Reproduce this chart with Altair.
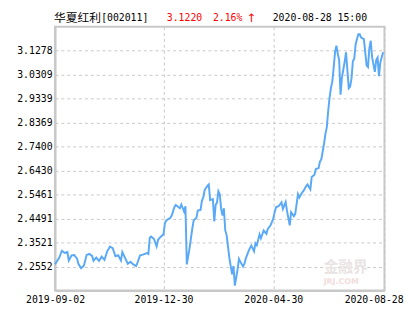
import altair as alt
import pandas as pd

# trading-day index and NAV values
idx = [0, 3, 5, 7, 9, 10, 12, 14, 16, 17, 19, 21, 23, 25, 27, 28, 30, 32, 34, 36,
       38, 40, 42, 44, 46, 48, 49, 51, 53, 55, 57, 59, 60, 62, 64, 67, 68, 69, 70, 72,
       74, 75, 77, 79, 80, 81, 84, 85, 87, 88, 90, 91, 92, 94, 95, 96, 98, 100, 101, 103,
       104, 106, 107, 108, 109, 111, 112, 113, 115, 116, 117, 118, 119, 120, 121, 122, 123, 124, 125, 127,
       128, 129, 130, 131, 133, 134, 135, 137, 138, 139, 141, 142, 143, 145, 146, 147, 149, 150, 152, 154,
       155, 157, 159, 160, 161, 163, 165, 166, 168, 169, 171, 172, 174, 175, 177, 178, 180, 181, 183, 184,
       186, 187, 189, 190, 192, 193, 194, 196, 197, 198, 199, 200, 201, 202, 203, 204, 205, 206, 207, 208,
       209, 211, 212, 214, 215, 216, 217, 218, 219, 220, 221, 222, 223, 225, 226, 227, 228, 229, 230, 231,
       233, 234, 235, 236, 237, 239]
nav = [2.2644, 2.2901, 2.3190, 2.3099, 2.3139, 2.2794, 2.3000, 2.3020, 2.2873, 2.2663,
       2.2485, 2.2584, 2.3020, 2.3060, 2.2980, 2.2782, 2.2913, 2.2782, 2.2952, 2.2822,
       2.3167, 2.3357, 2.3297, 2.2969, 2.3008, 2.2794, 2.3139, 2.2901, 2.2664, 2.2743,
       2.2636, 2.2572, 2.2703, 2.3008, 2.3032, 2.3099, 2.3060, 2.3713, 2.3761, 2.3674,
       2.3365, 2.3626, 2.3761, 2.3852, 2.4288, 2.4418, 2.4525, 2.4616, 2.4961, 2.5040,
       2.4949, 2.4909, 2.5060, 2.4775, 2.4988, 2.2636, 2.3297, 2.4089, 2.4418, 2.4525,
       2.4814, 2.4842, 2.5210, 2.5345, 2.5646, 2.5812, 2.5872, 2.5238, 2.5278, 2.4379,
       2.5040, 2.5147, 2.5594, 2.5476, 2.4882, 2.4616, 2.4909, 2.4022, 2.3824, 2.2901,
       2.2565, 2.2240, 2.2572, 2.1780, 2.2446, 2.2862, 2.2743, 2.2553, 2.2664, 2.2881,
       2.3178, 2.3297, 2.3396, 2.3167, 2.3495, 2.3416, 2.3852, 2.3693, 2.4010, 2.3872,
       2.4070, 2.4220, 2.4486, 2.4751, 2.4949, 2.5000, 2.5147, 2.4882, 2.5159, 2.4802,
       2.4220, 2.4751, 2.4592, 2.4684, 2.5476, 2.5345, 2.5543, 2.5607, 2.5804, 2.5872,
       2.5674, 2.6177, 2.6268, 2.6493, 2.6533, 2.6795, 2.6889, 2.7523, 2.7919, 2.8181,
       2.8842, 2.9369, 2.9765, 3.0030, 3.0585, 3.1219, 3.1484, 3.1151, 3.0901, 2.9504,
       3.0189, 3.0822, 3.1219, 2.9765, 2.9832, 3.0161, 3.0862, 3.0953, 3.1535, 3.1753,
       3.1943, 3.1943, 3.1813, 3.1746, 3.1219, 3.0692, 3.0624, 3.1377, 3.1682, 3.1020,
       3.0426, 3.0901, 3.1000, 3.0248, 3.0805, 3.1220]

y_ticks = [2.2552, 2.3521, 2.4491, 2.5461, 2.6430, 2.7400, 2.8369, 2.9339, 3.0309, 3.1278]
y_domain = [2.15824, 3.22476]
x_ticks = [0, 79, 159, 240]
x_labels = ["2019-09-02", "2019-12-30", "2020-04-30", "2020-08-28"]

fund_name = "华夏红利"
fund_code = "[002011]"
last_nav = "3.1220"
change = "2.16%"
arrow = "↑"
stamp = "2020-08-28 15:00"

df = pd.DataFrame({"i": idx, "nav": nav})

label_expr = " : ".join(
    [f"datum.value == {t} ? '{l}'" for t, l in zip(x_ticks, x_labels)]
) + " : ''"

MONO = "DejaVu Sans Mono"
GRID = "#c8c8c8"

line = alt.Chart(df).mark_line(color="#5aa9f6", strokeWidth=2).encode(
    x=alt.X("i:Q",
            scale=alt.Scale(domain=[0, 240], nice=False, zero=False),
            axis=alt.Axis(values=x_ticks, labelExpr=label_expr, title=None,
                          grid=True, gridDash=[3, 3], gridColor=GRID,
                          ticks=False, labelPadding=4, domainColor="#c8c8c8",
                          domainWidth=2, labelFont=MONO, labelFontSize=10,
                          labelColor="#000000", labelFlush=False,
                          labelOffset={"condition": {"test": "datum.value == 240", "value": -11}, "value": 0})),
    y=alt.Y("nav:Q",
            scale=alt.Scale(domain=y_domain, nice=False, zero=False),
            axis=alt.Axis(values=y_ticks, format=".4f", title=None,
                          grid=True, gridDash=[3, 3], gridColor=GRID,
                          ticks=False, labelPadding=3, domainColor="#c8c8c8",
                          domainWidth=2, labelFont=MONO, labelFontSize=10,
                          labelColor="#000000", labelBaseline="middle")),
)


def txt(s, x, y, color="#000000", font=MONO, size=10, align="left", weight="normal"):
    return alt.Chart(pd.DataFrame({"t": [s]})).mark_text(
        align=align, baseline="middle", font=font, fontSize=size,
        color=color, fontWeight=weight
    ).encode(text="t:N", x=alt.value(x), y=alt.value(y))


# page coords -> plot coords: x - 56, y - 24
title_y = 15.5 - 24
layers = [
    txt("金融界", 330 - 56, 269 - 24, color="#e9e3e3", font="Noto Sans CJK SC", size=15, weight="bold"),
    txt("JRJ.COM", 330 - 56, 284 - 24, color="#f2dcdc", font="DejaVu Sans", size=8, weight="bold"),
    line,
    txt(fund_name, 55 - 56, title_y, font="Noto Sans CJK SC", size=12),
    txt(fund_code, 103 - 56, title_y),
    txt(last_nav, 170 - 56, title_y, color="#ff0000"),
    txt(change, 217 - 56, title_y, color="#ff0000"),
    txt(arrow, 256.5 - 56, title_y, color="#ff0000", font="DejaVu Sans", size=12, align="center"),
    txt(stamp, 278 - 56, title_y),
]

chart = alt.layer(*layers).properties(
    width=336, height=269,
    autosize=alt.AutoSizeParams(type="none"),
    padding={"left": 48, "top": 16, "right": 23, "bottom": 30},
    background="#ffffff",
).configure_view(stroke="#c8c8c8", strokeWidth=2)

chart.save("out.html", embed_options={"renderer": "svg", "actions": False})
